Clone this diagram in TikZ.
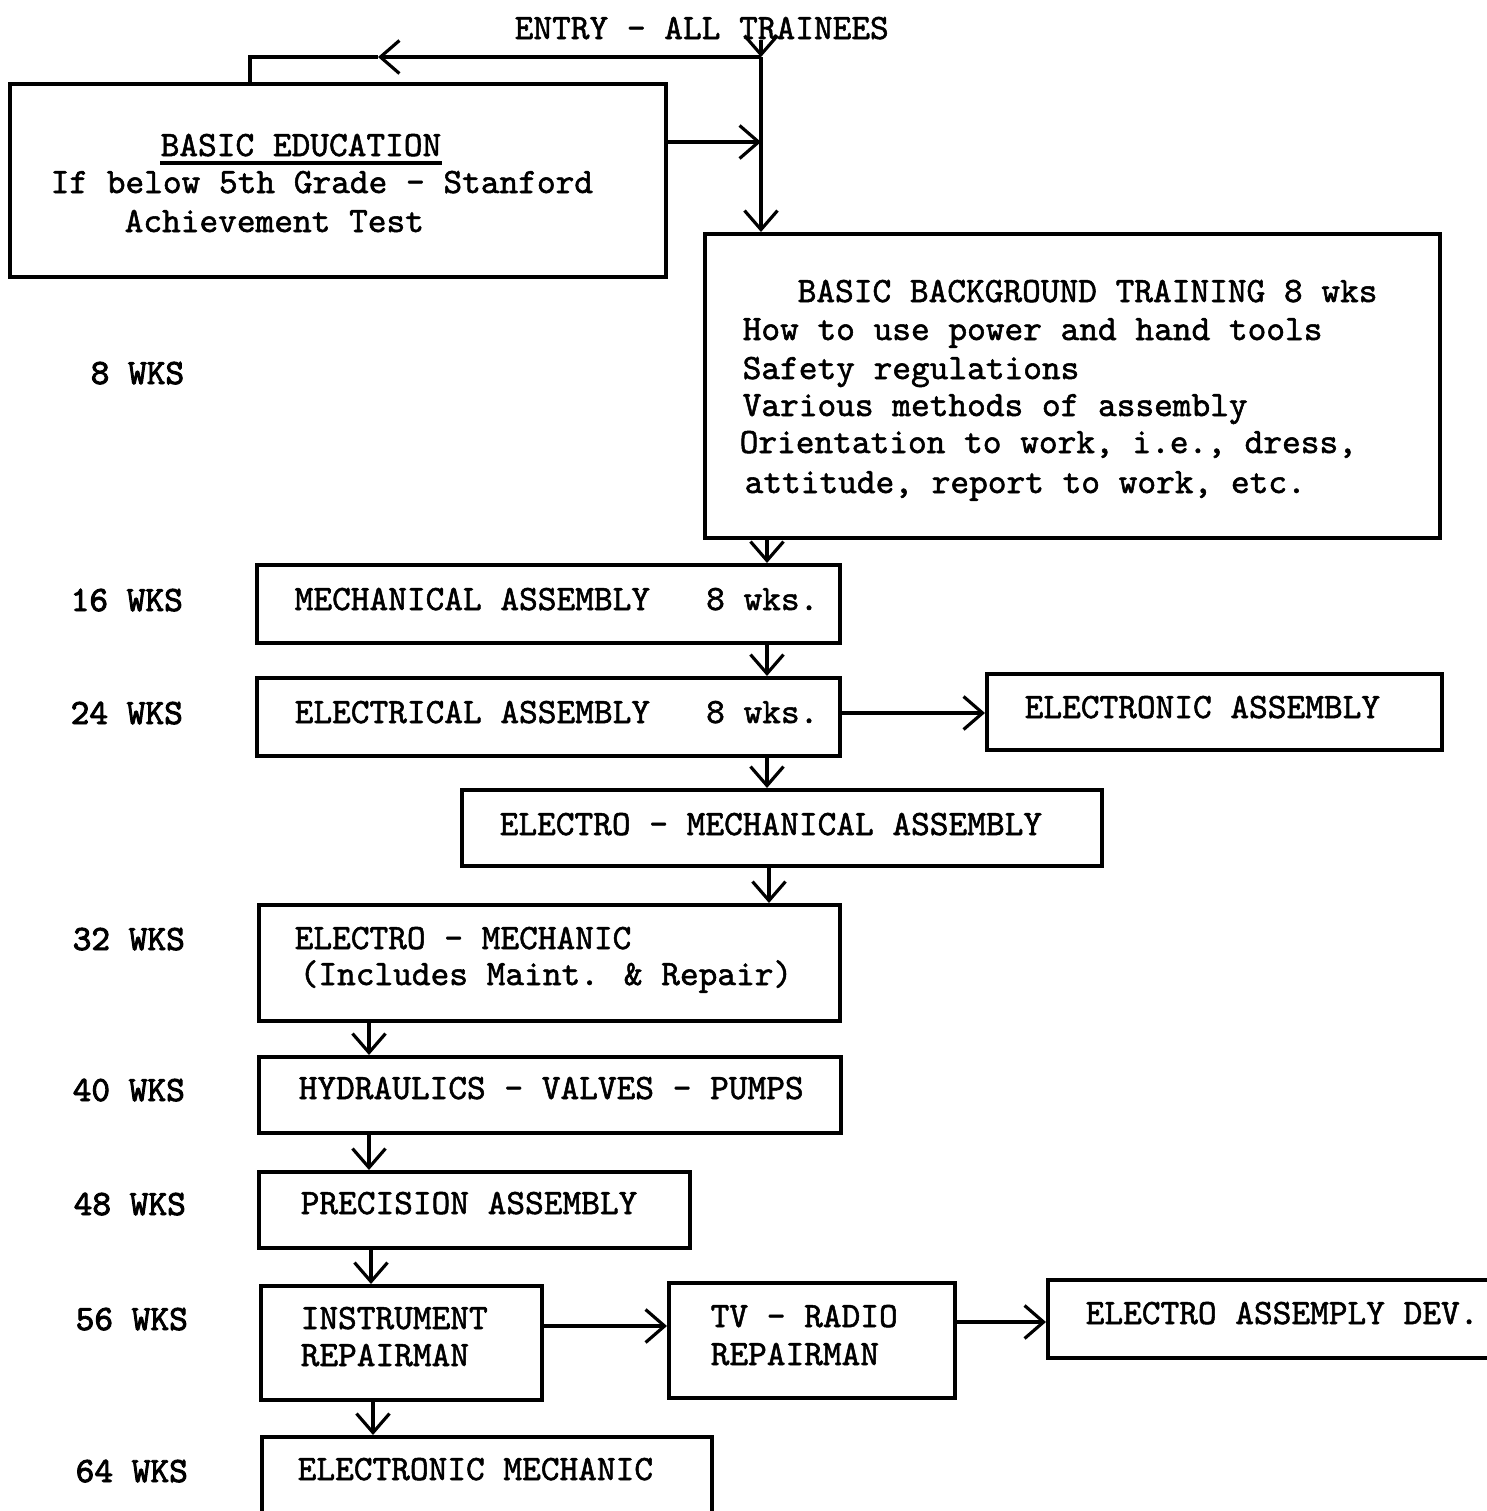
\documentclass[tikz,border=0pt]{standalone}
\usepackage{fontspec}
\newfontfamily\typew{lmmono10-regular.otf}[FakeBold=1.5]
\newfontfamily\typewb{lmmono10-regular.otf}[FakeBold=2.6]
\usetikzlibrary{arrows.meta,fit}
\newcommand\mybox[5]{\node[boxst, fit={(#2,#3)(#4,#5)}] (#1) {};}
\begin{document}
\begin{tikzpicture}[x=0.01cm,y=-0.01cm,
  boxst/.style={draw, line width=1.15pt, inner sep=0pt},
  txt/.style={anchor=base west, inner sep=0pt, font=\fontsize{10.13}{12}\selectfont\typew},
  wks/.style={anchor=base west, inner sep=0pt, font=\fontsize{10.13}{12}\selectfont\typewb},
  conn/.style={line width=0.9pt},
  arr/.style={conn, -{Straight Barb[length=1.9mm,width=3.3mm,line width=0.9pt]}}]
\useasboundingbox (0,0) rectangle (1487,1511);
\clip (0,0) rectangle (1487,1511);

% boxes
\mybox{edu}{10}{84}{666}{277}
\mybox{bg}{705}{234}{1440}{538}
\mybox{mech}{257}{565}{840}{643}
\mybox{elec}{257}{678}{840}{756}
\mybox{elnc}{987}{674}{1442}{750}
\mybox{emasm}{462}{790}{1102}{866}
\mybox{emech}{259}{905}{840}{1021}
\mybox{hyd}{259}{1057}{841}{1133}
\mybox{prec}{259}{1172}{690}{1248}
\mybox{instr}{261}{1286}{542}{1400}
\mybox{tv}{669}{1283}{955}{1398}
\mybox{ead}{1048}{1280}{1530}{1358}
\mybox{emc}{262}{1437}{712}{1560}

% texts
\node[txt] (entry) at (514,39) {ENTRY - ALL TRAINEES};
\node[txt] (eduA) at (160,156) {BASIC EDUCATION};
\draw[line width=0.9pt] ([yshift=-2pt]eduA.base west) -- ([yshift=-2pt]eduA.base east);
\node[txt] (eduB) at (50,193) {If below 5th Grade - Stanford};
\node[txt] (eduC) at (124,232) {Achievement Test};

\node[txt] (bgA) at (797,302) {BASIC BACKGROUND TRAINING 8 wks};
\node[txt] (bgB) at (742,340) {How to use power and hand tools};
\node[txt] (bgC) at (742,379) {Safety regulations};
\node[txt] (bgD) at (742,416) {Various methods of assembly};
\node[txt] (bgE) at (739,453) {Orientation to work, i.e., dress,};
\node[txt] (bgF) at (744,493) {attitude, report to work, etc.};

\node[txt] (mechT) at (294,610) {MECHANICAL ASSEMBLY\ \ \ 8 wks.};
\node[txt] (elecT) at (294,723) {ELECTRICAL ASSEMBLY\ \ \ 8 wks.};
\node[txt] (elncT) at (1024,718) {ELECTRONIC ASSEMBLY};
\node[txt] (emasmT) at (499,835) {ELECTRO - MECHANICAL ASSEMBLY};
\node[txt] (emechA) at (294,949) {ELECTRO - MECHANIC};
\node[txt] (emechB) at (299,985) {(Includes Maint. \& Repair)};
\node[txt] (hydT) at (298,1099) {HYDRAULICS - VALVES - PUMPS};
\node[txt] (precT) at (300,1214) {PRECISION ASSEMBLY};
\node[txt] (instrA) at (300,1329) {INSTRUMENT};
\node[txt] (instrB) at (300,1366) {REPAIRMAN};
\node[txt] (tvA) at (710,1327) {TV - RADIO};
\node[txt] (tvB) at (710,1365) {REPAIRMAN};
\node[txt] (eadT) at (1085,1324) {ELECTRO ASSEMPLY DEV.};
\node[txt] (emcT) at (297,1480) {ELECTRONIC MECHANIC};

% week labels
\node[wks] (w8) at (90,384) {8 WKS};
\node[wks] (w16) at (70,611) {16 WKS};
\node[wks] (w24) at (70,724) {24 WKS};
\node[wks] (w32) at (72,950) {32 WKS};
\node[wks] (w40) at (72,1101) {40 WKS};
\node[wks] (w48) at (73,1215) {48 WKS};
\node[wks] (w56) at (75,1330) {56 WKS};
\node[wks] (w64) at (75,1482) {64 WKS};

% connectors
\coordinate (top) at (761,40);
\coordinate (jn) at (761,57);
\coordinate (midl) at (378,57);
\coordinate (lft) at (250,57);
\coordinate (eduy) at (0,142);
\draw[arr] (top) -- (jn);
\draw[arr] (jn) -- (midl);
\draw[conn] (midl) -- (lft) -- (edu.north -| lft);
\draw[arr] (jn) -- (bg.north -| jn);
\draw[arr] (edu.east |- eduy) -- (jn |- eduy);

\coordinate (cx1) at (767,0);
\coordinate (cx2) at (769,0);
\coordinate (cx3) at (369,0);
\coordinate (cx4) at (371,0);
\coordinate (cx5) at (373,0);
\draw[arr] (bg.south -| cx1) -- (mech.north -| cx1);
\draw[arr] (mech.south -| cx1) -- (elec.north -| cx1);
\draw[arr] (elec.south -| cx1) -- (emasm.north -| cx1);
\draw[arr] (emasm.south -| cx2) -- (emech.north -| cx2);
\draw[arr] (emech.south -| cx3) -- (hyd.north -| cx3);
\draw[arr] (hyd.south -| cx3) -- (prec.north -| cx3);
\draw[arr] (prec.south -| cx4) -- (instr.north -| cx4);
\draw[arr] (instr.south -| cx5) -- (emc.north -| cx5);

\coordinate (ry1) at (0,713);
\coordinate (ry2) at (0,1326);
\coordinate (ry3) at (0,1322);
\draw[arr] (elec.east |- ry1) -- (elnc.west |- ry1);
\draw[arr] (instr.east |- ry2) -- (tv.west |- ry2);
\draw[arr] (tv.east |- ry3) -- (ead.west |- ry3);
\end{tikzpicture}
\end{document}
